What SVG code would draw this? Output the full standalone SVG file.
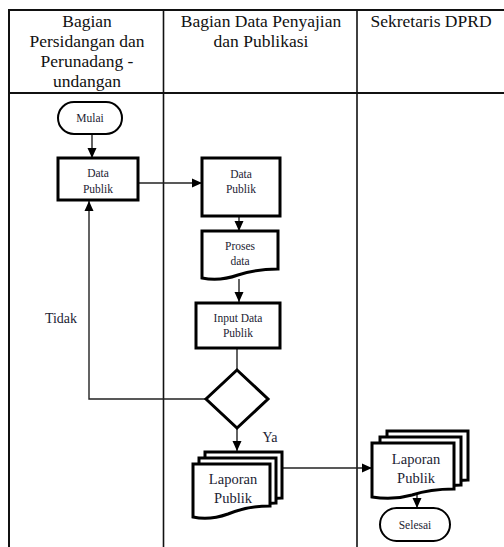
<svg xmlns="http://www.w3.org/2000/svg" width="504" height="547" viewBox="0 0 504 547">
<style>
.hdr{font-family:"Liberation Serif","Times New Roman",serif;font-size:17.5px;fill:#111;text-anchor:middle}
.t{font-family:"Liberation Serif","Times New Roman",serif;fill:#1c2333;text-anchor:middle}
.grid{stroke:#111;fill:none}
.box{fill:#fff;stroke:#000;stroke-width:3}
.term{fill:#fff;stroke:#000;stroke-width:2}
.con{stroke:#222;stroke-width:1.4;fill:none}
</style>
<defs>
<marker id="ah" markerUnits="userSpaceOnUse" markerWidth="10" markerHeight="10" viewBox="0 0 10 10" refX="10" refY="5" orient="auto">
<path d="M0,0.5 L10,5 L0,9.5 Z" fill="#000"/>
</marker>
</defs>
<rect width="504" height="547" fill="#fff"/>
<g id="table">
<line class="grid" x1="9" y1="10" x2="504" y2="10" stroke-width="2"/>
<line class="grid" x1="9" y1="93" x2="504" y2="93" stroke-width="2"/>
<line class="grid" x1="9" y1="9" x2="9" y2="547" stroke-width="2"/>
<line class="grid" x1="163.5" y1="10" x2="163.5" y2="547" stroke-width="1.6"/>
<line class="grid" x1="357" y1="10" x2="357" y2="547" stroke-width="1.6"/>
<text class="hdr" x="87" y="27">Bagian</text>
<text class="hdr" x="87" y="47">Persidangan dan</text>
<text class="hdr" x="87" y="67">Perunadang -</text>
<text class="hdr" x="87" y="87">undangan</text>
<text class="hdr" x="261" y="27">Bagian Data Penyajian</text>
<text class="hdr" x="261" y="47">dan Publikasi</text>
<text class="hdr" x="431" y="27">Sekretaris DPRD</text>
</g>
<g id="connectors">
<line class="con" x1="92" y1="134" x2="92" y2="158" marker-end="url(#ah)"/>
<line class="con" x1="138" y1="183" x2="202" y2="183" marker-end="url(#ah)"/>
<line class="con" x1="239" y1="216" x2="239" y2="231" marker-end="url(#ah)"/>
<line class="con" x1="239" y1="279" x2="239" y2="302" marker-end="url(#ah)"/>
<line class="con" x1="237" y1="348" x2="237" y2="370"/>
<polyline class="con" points="205,399 89,399 89,201" marker-end="url(#ah)"/>
<line class="con" x1="237" y1="428" x2="237" y2="451" marker-end="url(#ah)"/>
<line class="con" x1="282" y1="468" x2="372" y2="468" marker-end="url(#ah)"/>
<line class="con" x1="417" y1="494" x2="417" y2="508" marker-end="url(#ah)"/>
<text class="t" x="61" y="323" font-size="14">Tidak</text>
<text class="t" x="270" y="442" font-size="14">Ya</text>
</g>
<g id="mulai">
<rect class="term" x="58" y="102" width="64" height="32" rx="16"/>
<text class="t" x="90" y="122" font-size="11.5">Mulai</text>
</g>
<g id="data-publik-1">
<rect class="box" x="58" y="158" width="80" height="42"/>
<text class="t" x="98" y="177" font-size="11.5">Data</text>
<text class="t" x="98" y="193" font-size="11.5">Publik</text>
</g>
<g id="data-publik-2">
<rect class="box" x="202" y="158" width="78" height="58"/>
<text class="t" x="241" y="178" font-size="11.5">Data</text>
<text class="t" x="241" y="193" font-size="11.5">Publik</text>
</g>
<g id="proses-data">
<path class="box" stroke-width="2.5" d="M202,231 H278 V269 C262,269 250,271 238,275 C224,280 212,280 202,278 Z"/>
<text class="t" x="240" y="250" font-size="11.5">Proses</text>
<text class="t" x="240" y="265" font-size="11.5">data</text>
</g>
<g id="input-data">
<rect class="box" x="196" y="303" width="84" height="45"/>
<text class="t" x="238" y="322" font-size="11.5">Input Data</text>
<text class="t" x="238" y="337" font-size="11.5">Publik</text>
</g>
<g id="decision">
<polygon class="box" stroke-width="3.5" points="237,370 268,399 237,428 206,399"/>
</g>
<g id="laporan-publik-1">
<path class="box" stroke-width="2.5" d="M205,452 H282 V498 C270,498 262,499 252,501 L205,501 Z"/>
<path class="box" stroke-width="2.5" d="M199,458 H276 V503 C264,503 256,504 246,507 L199,507 Z"/>
<path class="box" stroke-width="2.5" d="M193,464 H270 V506 C252,506 240,509 228,514 C214,519 202,519 193,517 Z"/>
<text class="t" x="233" y="484" font-size="14.5">Laporan</text>
<text class="t" x="233" y="503" font-size="14.5">Publik</text>
</g>
<g id="laporan-publik-2">
<path class="box" stroke-width="2.5" d="M387,431 H468 V480 C456,480 448,481 438,483 L387,483 Z"/>
<path class="box" stroke-width="2.5" d="M380,437 H461 V485 C449,485 441,486 431,488 L380,488 Z"/>
<path class="box" stroke-width="2.5" d="M372,443 H454 V489 C436,489 424,491 412,495 C398,499 384,499 372,497 Z"/>
<text class="t" x="416" y="464" font-size="14.5">Laporan</text>
<text class="t" x="416" y="483" font-size="14.5">Publik</text>
</g>
<g id="selesai">
<rect class="term" x="380" y="508" width="70" height="33" rx="16.5"/>
<text class="t" x="415" y="529" font-size="11.5">Selesai</text>
</g>
</svg>
